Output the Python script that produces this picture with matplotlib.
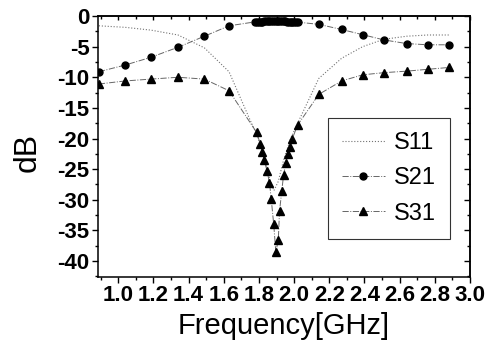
import numpy as np
import matplotlib
matplotlib.use("Agg")
import matplotlib.pyplot as plt
from matplotlib.ticker import MultipleLocator

plt.rcParams['font.family'] = ['Liberation Sans', 'DejaVu Sans']

# S11 (thin dotted line, no markers)
s11_freq = [0.89, 1.04, 1.185, 1.34, 1.49, 1.63, 1.75, 1.79, 1.83, 1.86, 1.885,
            1.91, 1.94, 1.98, 2.02, 2.14, 2.27, 2.39, 2.51, 2.64, 2.76, 2.88]
s11_db = [-1.6, -1.85, -2.3, -3.1, -5.2, -9.1, -17.0, -19.5, -23.0, -26.5, -28.5,
          -27.0, -23.5, -20.0, -17.5, -10.2, -6.9, -5.0, -3.8, -3.3, -3.1, -3.1]

# S21 (circles)
s21_freq = [0.89, 1.04, 1.185, 1.34, 1.49, 1.63,
            1.78, 1.79, 1.80, 1.81, 1.82, 1.83, 1.84, 1.85, 1.86, 1.87, 1.88, 1.89,
            1.90, 1.91, 1.92, 1.93, 1.94, 1.95, 1.96, 1.97, 1.98, 1.99, 2.00, 2.01, 2.02,
            2.14, 2.27, 2.39, 2.51, 2.64, 2.76, 2.88]
s21_db = [-9.1, -8.0, -6.75, -5.1, -3.3, -1.6,
          -0.95, -0.93, -0.92, -0.9, -0.9, -0.88, -0.87, -0.86, -0.85, -0.85, -0.84, -0.84,
          -0.84, -0.85, -0.85, -0.86, -0.87, -0.88, -0.9, -0.9, -0.92, -0.93, -0.95, -0.97, -1.0,
          -1.36, -2.2, -3.05, -3.9, -4.5, -4.7, -4.7]

# S31 (triangles)
s31_freq = [0.89, 1.04, 1.185, 1.34, 1.49, 1.63, 1.787, 1.808, 1.82, 1.83, 1.846,
            1.86, 1.87, 1.884, 1.896, 1.91, 1.917, 1.93, 1.94, 1.953, 1.966, 1.975,
            1.99, 2.02, 2.14, 2.27, 2.39, 2.51, 2.64, 2.76, 2.88]
s31_db = [-11.1, -10.6, -10.3, -10.0, -10.3, -12.2, -19.0, -20.9, -22.2, -23.5, -25.3,
          -27.2, -29.9, -34.0, -38.5, -36.6, -31.9, -28.5, -26.0, -24.0, -22.5, -21.3,
          -20.0, -17.8, -12.8, -10.6, -9.6, -9.25, -9.0, -8.7, -8.4]

xticks = [1.0, 1.2, 1.4, 1.6, 1.8, 2.0, 2.2, 2.4, 2.6, 2.8, 3.0]
yticks = [0, -5, -10, -15, -20, -25, -30, -35, -40]

fig = plt.figure(figsize=(4.95, 3.5), dpi=100)
ax = fig.add_axes([98 / 495, 1 - 277 / 350, 372 / 495, 261 / 350])

ax.plot(s11_freq, s11_db, color='0.45', lw=0.8, ls=':', label='S11')
ax.plot(s21_freq, s21_db, color='0.4', lw=0.7, ls='-.', marker='o', ms=5,
        mfc='black', mec='black', label='S21')
ax.plot(s31_freq, s31_db, color='0.4', lw=0.7, ls='-.', marker='^', ms=5.5,
        mfc='black', mec='black', label='S31')

ax.set_xlim(0.885, 3.0)
ax.set_ylim(-42.6, 0)
ax.set_xticks(xticks)
ax.set_xticklabels([f"{t:.1f}" for t in xticks])
ax.set_yticks(yticks)
ax.set_yticklabels([str(t) for t in yticks])
ax.xaxis.set_minor_locator(MultipleLocator(0.1))
ax.yaxis.set_minor_locator(MultipleLocator(2.5))

for sp in ax.spines.values():
    sp.set_linewidth(1.1)
ax.tick_params(which='both', direction='out', width=1.0, labelsize=16, pad=2)
ax.tick_params(which='major', length=4)
ax.tick_params(which='minor', length=2.5)
for lab in ax.get_xticklabels() + ax.get_yticklabels():
    lab.set_fontweight('bold')

# right / top ticks point inward
sec = ax.secondary_yaxis('right')
sec.set_yticks(yticks)
sec.yaxis.set_minor_locator(MultipleLocator(2.5))
sec.tick_params(which='both', direction='in', labelright=False, width=1.0)
sec.tick_params(which='major', length=4)
sec.tick_params(which='minor', length=2.5)
sec.spines['right'].set_linewidth(1.1)

top = ax.secondary_xaxis('top')
top.set_xticks(xticks)
top.xaxis.set_minor_locator(MultipleLocator(0.1))
top.tick_params(which='both', direction='in', labeltop=False, width=1.0)
top.tick_params(which='major', length=3)
top.tick_params(which='minor', length=2)
top.spines['top'].set_linewidth(1.1)

ax.set_xlabel('Frequency[GHz]', fontsize=21)
ax.set_ylabel('dB', fontsize=23)
ax.xaxis.set_label_coords(0.5, -0.135)
ax.yaxis.set_label_coords(-0.15, 0.479)

leg = ax.legend(loc='upper left', bbox_to_anchor=(0.618, 0.609), borderaxespad=0,
                fontsize=17, frameon=True, fancybox=False, handlelength=1.8,
                handletextpad=0.4, labelspacing=0.56, borderpad=0.6)
leg.get_frame().set_edgecolor('black')
leg.get_frame().set_linewidth(0.8)

fig.savefig('out.png', dpi=100)
